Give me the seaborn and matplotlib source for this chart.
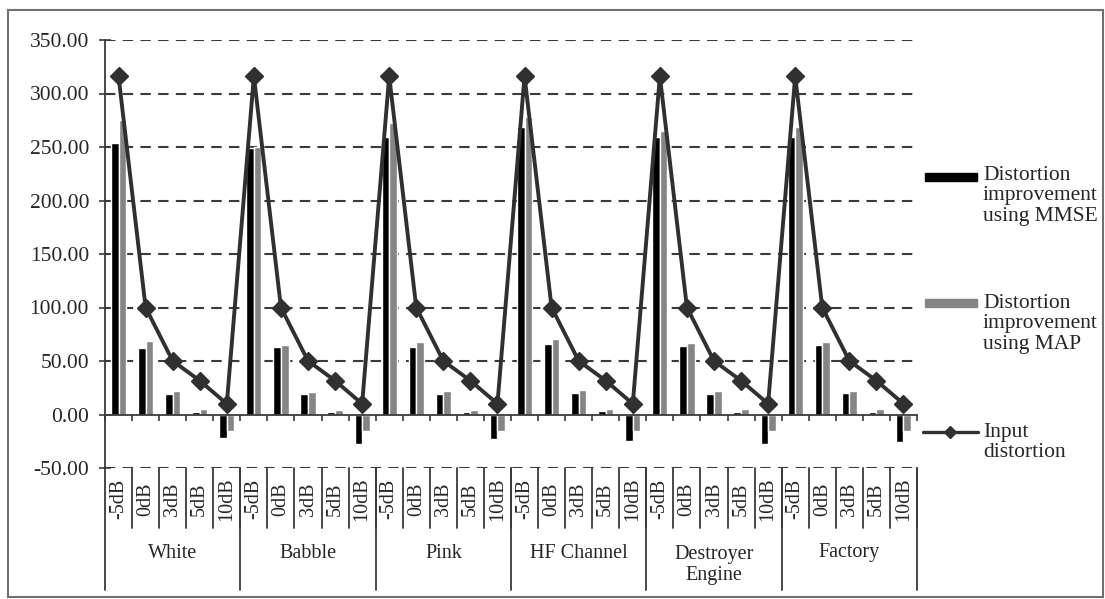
import numpy as np
import pandas as pd
import matplotlib
matplotlib.use("Agg")
import matplotlib.pyplot as plt
import seaborn as sns
from matplotlib.lines import Line2D
from matplotlib.patches import Rectangle
from matplotlib.ticker import FormatStrFormatter

# values
noise_types = ["White", "Babble", "Pink", "HF Channel", "Destroyer\nEngine", "Factory"]
snr_levels = ["-5dB", "0dB", "3dB", "5dB", "10dB"]

mmse = {
    "White":            [253.6, 62.0, 19.3, 2.8, -22.0],
    "Babble":           [249.0, 63.0, 19.3, 2.8, -28.0],
    "Pink":             [259.0, 63.0, 19.0, 2.2, -22.7],
    "HF Channel":       [269.0, 66.0, 20.0, 3.1, -25.0],
    "Destroyer\nEngine": [259.0, 64.0, 19.3, 2.2, -27.4],
    "Factory":          [259.8, 64.5, 20.0, 2.8, -25.9],
}
map_est = {
    "White":            [275.7, 69.0, 22.4, 5.3, -15.0],
    "Babble":           [250.0, 64.5, 20.8, 4.4, -15.0],
    "Pink":             [272.6, 68.0, 21.5, 4.4, -15.0],
    "HF Channel":       [277.9, 70.7, 23.0, 5.3, -15.0],
    "Destroyer\nEngine": [264.8, 67.0, 21.5, 4.7, -15.0],
    "Factory":          [268.5, 68.0, 22.4, 5.3, -15.0],
}
input_dist = [316.23, 100.0, 50.12, 31.62, 10.0]

lab_mmse = "Distortion\nimprovement\nusing MMSE"
lab_map = "Distortion\nimprovement\nusing MAP"
lab_in = "Input\ndistortion"

# long-form table for seaborn
rows = []
order = []
for n in noise_types:
    for i, s in enumerate(snr_levels):
        key = n + " " + s
        order.append(key)
        rows.append((key, lab_mmse, mmse[n][i]))
        rows.append((key, lab_map, map_est[n][i]))
df = pd.DataFrame(rows, columns=["cond", "method", "value"])
line_vals = [v for n in noise_types for v in input_dist]

sns.set_style("white")
plt.rcParams["font.family"] = ["Liberation Serif", "DejaVu Serif"]

fig = plt.figure(figsize=(11.05, 5.99), dpi=100)
W, H = 1105, 599
ax = fig.add_axes([105 / W, (H - 468) / H, (917 - 105) / W, (468 - 40) / H])

sns.barplot(data=df, x="cond", y="value", hue="method", order=order,
            hue_order=[lab_mmse, lab_map], palette=["#000000", "#858585"],
            width=0.56, gap=0, saturation=1, legend=False, ax=ax)
ax.plot(np.arange(len(order)), line_vals, color="#303030", lw=2.8,
        marker="D", ms=9.5, zorder=5)

ax.set_xlim(-0.5, len(order) - 0.5)
ax.set_ylim(-50, 350)
ax.set_yticks(np.arange(-50, 351, 50))
ax.yaxis.set_major_formatter(FormatStrFormatter("%.2f"))
ax.set_xlabel("")
ax.set_ylabel("")

for y in np.arange(-50, 351, 50):
    if y != 0:
        ax.axhline(y, color="#3a3a3a", lw=1.5, ls=(0, (5, 3.5)), zorder=0)

for s in ["top", "right"]:
    ax.spines[s].set_visible(False)
ax.spines["bottom"].set_position(("data", 0))
ax.spines["bottom"].set_color("#3a3a3a")
ax.spines["bottom"].set_linewidth(1.3)
ax.spines["left"].set_color("#3a3a3a")
ax.spines["left"].set_linewidth(1.3)

ax.set_xticks(np.arange(-0.5, len(order), 1.0))
ax.set_xticklabels([])
ax.tick_params(axis="x", direction="out", length=4.5, width=1.2, color="#3a3a3a", bottom=True)
ax.tick_params(axis="y", direction="inout", length=9, width=1.2, color="#3a3a3a",
               labelsize=15.5, pad=7, left=True)

# multi-level category labels below the axis
trans = ax.get_xaxis_transform()
to_frac = lambda px: (468 - px) / 428
for k, n in enumerate(noise_types):
    for i, s in enumerate(snr_levels):
        x = k * 5 + i
        ax.text(x, to_frac(499), s, rotation=90, ha="center", va="center",
                fontsize=14.5, transform=trans, clip_on=False)
        ax.plot([x + 0.5, x + 0.5], [0, to_frac(528)], color="#3a3a3a", lw=1.3,
                transform=trans, clip_on=False)
    nl = n.count("\n")
    ax.text(k * 5 + 2, to_frac(553 + 12 * nl), n, ha="center", va="center",
            fontsize=14.5, linespacing=1.15, transform=trans, clip_on=False)
for b in np.arange(-0.5, len(order), 5):
    ax.plot([b, b], [0, to_frac(590)], color="#3a3a3a", lw=1.3,
            transform=trans, clip_on=False)

# legend on the right, key aligned with first text line
def fy(px):
    return (H - px) / H

fig.patches.append(Rectangle((925 / W, fy(181)), 52 / W, 8 / H, transform=fig.transFigure,
                             color="#000000"))
fig.patches.append(Rectangle((925 / W, fy(307)), 52 / W, 8 / H, transform=fig.transFigure,
                             color="#858585"))
key_line = Line2D([923 / W, 950 / W, 978 / W], [fy(432)] * 3, transform=fig.transFigure,
                  color="#303030", lw=2.4, marker="D", ms=6)
key_line.set_markevery([1])
fig.lines.append(key_line)
for txt, ypx in [(lab_mmse, 166), (lab_map, 294), (lab_in, 423)]:
    fig.text(983 / W, fy(ypx), txt, ha="left", va="top", fontsize=15.5, linespacing=1.1)

# outer frame
fig.patches.append(Rectangle((8 / W, 2 / H), 1095 / W, 587 / H, transform=fig.transFigure,
                             fill=False, edgecolor="#707070", lw=1.5))

fig.savefig("out.png", dpi=100)
